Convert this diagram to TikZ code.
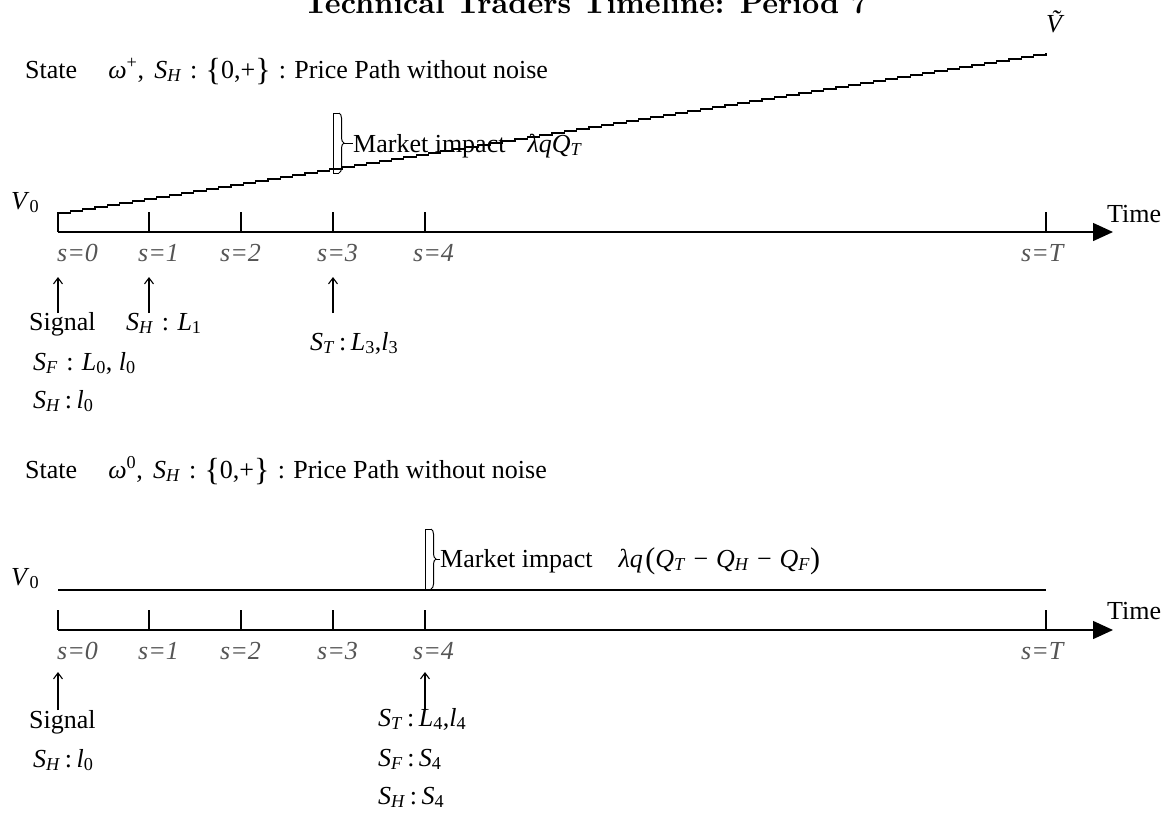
\documentclass[tikz,border=0pt]{standalone}
\usepackage{fontspec}
\setmainfont{Liberation Serif}
\newfontfamily\titlefont[Extension=.otf,BoldFont=lmroman10-bold]{lmroman10-regular}
\usetikzlibrary{arrows.meta,decorations.pathreplacing}
\definecolor{sgray}{RGB}{85,85,85}
\newcommand\Sb[2]{\textit{#1}\textsubscript{\textit{#2}}}
\newcommand\Sn[2]{\textit{#1}\textsubscript{#2}}
\newcommand\Lbr{\raisebox{-2.5pt}{\fontsize{32}{32}\selectfont\{}}
\newcommand\Rbr{\raisebox{-2.5pt}{\fontsize{32}{32}\selectfont\}}}
\newcommand\Lpa{\raisebox{-1.5pt}{\fontsize{30}{30}\selectfont(}}
\newcommand\Rpa{\raisebox{-1.5pt}{\fontsize{30}{30}\selectfont)}}
\newcommand\cl{\hspace{0.32em}:\hspace{0.32em}}
\newcommand\mn{\hspace{0.3em}−\hspace{0.3em}}
\tikzset{
  base/.style={inner sep=0pt, font=\fontsize{26}{30}\selectfont},
  lab/.style={base, anchor=base west},
  slab/.style={base, anchor=base west, text=sgray, font=\itshape\fontsize{26}{30}\selectfont},
  axisline/.style={line width=1.4pt, -{Triangle[length=20pt,width=18pt]}},
  tickline/.style={line width=1.2pt},
  pathline/.style={line width=1.2pt},
  upline/.style={line width=1.1pt, -{Straight Barb[length=6pt,width=9pt,line width=1.1pt]}},
  bracketline/.style={line width=1pt},
  bracebrace/.style={line width=1pt, decorate, decoration={brace, amplitude=5pt}},
}
\begin{document}
\begin{tikzpicture}[x=1pt,y=-1pt]
\useasboundingbox (0,0) rectangle (1165,823);
% title (cut by the top edge)
\node[base, anchor=base, font=\titlefont\bfseries\fontsize{30}{34}\selectfont] (title) at (586,13) {Technical Traders Timeline: Period 7};

%================ top panel =================
\node[lab] (state1) at (25,78) {State\hspace{1.2em}\textit{ω}\textsuperscript{+},\hspace{0.4em}\Sb{S}{H}\cl\Lbr0,+\Rbr\cl Price Path without noise};
\node[lab] (v0a) at (11,209) {\Sn{V}{0}};
\node[lab] (vt) at (1046,32) {\textit{\~V}};
\node[lab] (time1) at (1107,222) {Time};

\coordinate (a1s) at (58,232);
\coordinate (a1e) at (1113,232);
\draw[axisline] (a1s) -- (a1e);
\foreach \x in {149,241,333,425,1046} \draw[tickline] (\x,212) -- (\x,232);
% price path (staircase)
\draw[pathline] (58,232) -- (58,213) \foreach \i in {1,...,80} { -- ++(12.35,0) -- ++(0,-2) };

\node[slab] (s10) at (57,261) {s=0};
\node[slab] (s11) at (138,261) {s=1};
\node[slab] (s12) at (220,261) {s=2};
\node[slab] (s13) at (317,261) {s=3};
\node[slab] (s14) at (413,261) {s=4};
\node[slab] (s1T) at (1021,261) {s=T};

% market impact bracket
\coordinate (b1t) at (333,113);
\coordinate (b1b) at (333,173);
\draw[bracketline] (b1b) -- (b1t) -- ++(6,0);
\draw[bracketline] (b1b) -- ++(6,0);
\draw[bracebrace] (339,113) -- (339,173);
\node[lab] (mi1) at (353,152) {Market impact\hspace{0.85em}\textit{λq}\Sb{Q}{T}};
\coordinate (b1tip) at (344,143);
\draw[bracketline] (b1tip) -- (mi1.west |- b1tip);

% labels under the axis
\node[lab] (sig1) at (29,330) {Signal};
\node[lab] (sh1) at (126,330) {\Sb{S}{H}\cl\Sn{L}{1}};
\node[lab] (st1) at (310,350) {\Sb{S}{T}\,:\,\Sn{L}{3},\Sn{l}{3}};
\node[lab] (sf1) at (33,370) {\Sb{S}{F}\cl\Sn{L}{0}, \Sn{l}{0}};
\node[lab] (shl1) at (33,408) {\Sb{S}{H}\,:\,\Sn{l}{0}};
\coordinate (u10b) at (58,313); \coordinate (u10t) at (58,277);
\coordinate (u11b) at (149,313); \coordinate (u11t) at (149,277);
\coordinate (u13b) at (333,313); \coordinate (u13t) at (333,277);
\draw[upline] (u10b) -- (u10t);
\draw[upline] (u11b) -- (u11t);
\draw[upline] (u13b) -- (u13t);

%================ bottom panel =================
\node[lab] (state2) at (25,478) {State\hspace{1.2em}\textit{ω}\textsuperscript{0},\hspace{0.4em}\Sb{S}{H}\cl\Lbr0,+\Rbr\cl Price Path without noise};
\node[lab] (v0b) at (11,585) {\Sn{V}{0}};
\node[lab] (time2) at (1107,619) {Time};

\coordinate (a2s) at (58,630);
\coordinate (a2e) at (1113,630);
\draw[axisline] (a2s) -- (a2e);
\foreach \x in {58,149,241,333,425,1046} \draw[tickline] (\x,610) -- (\x,630);
\coordinate (p2s) at (58,590);
\coordinate (p2e) at (1046,590);
\draw[pathline] (p2s) -- (p2e);

\node[slab] (s20) at (57,659) {s=0};
\node[slab] (s21) at (138,659) {s=1};
\node[slab] (s22) at (220,659) {s=2};
\node[slab] (s23) at (317,659) {s=3};
\node[slab] (s24) at (413,659) {s=4};
\node[slab] (s2T) at (1021,659) {s=T};

\coordinate (b2t) at (425,529);
\coordinate (b2b) at (425,589);
\draw[bracketline] (b2b) -- (b2t) -- ++(6,0);
\draw[bracebrace] (431,529) -- (431,589);
\node[lab] (mi2) at (440,567) {Market impact\hspace{1em}\textit{λq}\hspace{0.1em}\Lpa\Sb{Q}{T}\mn\Sb{Q}{H}\mn\Sb{Q}{F}\Rpa};
\coordinate (b2tip) at (436,559);
\draw[bracketline] (b2tip) -- (mi2.west |- b2tip);

\node[lab] (sig2) at (29,728) {Signal};
\node[lab] (shl2) at (33,767) {\Sb{S}{H}\,:\,\Sn{l}{0}};
\node[lab] (st2) at (378,726) {\Sb{S}{T}\,:\,\Sn{L}{4},\Sn{l}{4}};
\node[lab] (sf2) at (378,766) {\Sb{S}{F}\,:\,\Sn{S}{4}};
\node[lab] (sh2) at (378,804) {\Sb{S}{H}\,:\,\Sn{S}{4}};
\coordinate (u20b) at (58,710); \coordinate (u20t) at (58,672);
\coordinate (u24b) at (425,710); \coordinate (u24t) at (425,672);
\draw[upline] (u20b) -- (u20t);
\draw[upline] (u24b) -- (u24t);
\end{tikzpicture}
\end{document}
